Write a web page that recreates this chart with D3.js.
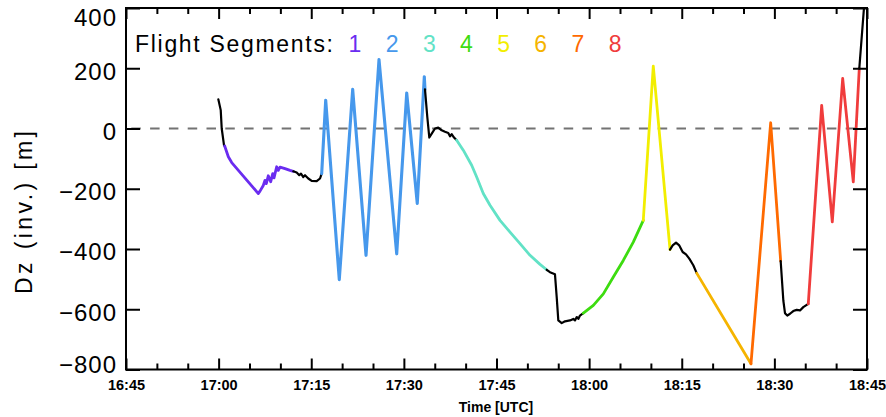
<!DOCTYPE html>
<html>
<head>
<meta charset="utf-8">
<script src="https://cdn.jsdelivr.net/npm/d3@7"></script>
<style>
  html, body { margin: 0; padding: 0; background: #fff; }
  svg { display: block; }
  text { font-family: "Liberation Sans", Arial, sans-serif; }
</style>
</head>
<body>
<svg id="chart" width="886" height="417"></svg>
<script>
// Flight track: height offset Dz relative to the inversion, by time (minutes after 00:00 UTC).
// Each piece is drawn in the colour of its flight segment (0 = transit, black).
const blackClimb  = [[1019.95,97],[1020.34,61],[1020.50,0],[1020.87,-55],[1020.98,-58]];
const segment1    = [[1020.98,-58],[1021.57,-94],[1022.12,-113],[1026.43,-216],[1026.70,-208],[1027.23,-189],[1027.51,-172],[1027.72,-183],[1028.04,-157],[1028.43,-177],[1028.76,-150],[1028.97,-164],[1029.40,-127],[1029.66,-139],[1029.94,-128],[1030.75,-133],[1031.56,-139],[1032.09,-142]];
const transitA    = [[1032.09,-142],[1032.64,-146],[1033.06,-155],[1033.34,-150],[1033.71,-161],[1033.99,-155],[1034.52,-166],[1035.07,-174],[1035.88,-175],[1036.42,-166],[1036.69,-150]];
const segment2    = [[1036.69,-150],[1037.34,94],[1039.54,-502],[1041.71,130],[1043.87,-421],[1045.97,229],[1048.84,-416],[1050.46,118],[1052.17,-249],[1053.31,172],[1053.42,130]];
const transitB    = [[1053.42,130],[1053.79,39],[1054.12,-30],[1054.51,-17],[1055.04,0],[1055.57,3],[1056.12,-6],[1056.66,-11],[1057.19,-15],[1057.47,-26],[1057.74,-19],[1058.12,-30],[1058.55,-39]];
const segment3    = [[1058.55,-39],[1059.62,-72],[1060.98,-122],[1061.79,-161],[1062.86,-216],[1063.95,-255],[1065.57,-305],[1067.19,-344],[1068.81,-382],[1070.43,-421],[1072.05,-451],[1073.13,-469]];
const transitC    = [[1073.13,-469],[1073.66,-477],[1074.47,-484],[1074.75,-560],[1075.01,-637],[1075.56,-646],[1076.09,-640],[1076.90,-637],[1077.44,-632],[1077.71,-637],[1077.99,-626],[1078.25,-632],[1078.52,-621],[1079.06,-613]];
const segment4    = [[1079.06,-613],[1080.68,-587],[1082.30,-549],[1083.92,-493],[1085.53,-438],[1087.15,-377],[1088.77,-305]];
const segment5    = [[1088.77,-305],[1090.39,207],[1093.10,-402]];
const transitD    = [[1093.10,-402],[1093.53,-388],[1094.07,-379],[1094.60,-388],[1095.15,-410],[1095.69,-418],[1096.22,-432],[1096.87,-454],[1097.42,-480]];
const segment6    = [[1097.42,-480],[1106.21,-781]];
const segment7    = [[1106.21,-781],[1109.40,19],[1111.02,-440]];
const transitE    = [[1111.02,-440],[1111.45,-571],[1111.72,-613],[1112.09,-621],[1112.53,-615],[1113.06,-606],[1113.61,-602],[1114.15,-604],[1114.68,-593],[1115.49,-582]];
const segment8    = [[1115.49,-582],[1117.66,77],[1119.38,-310],[1121.06,166],[1122.78,-177],[1123.75,199]];
const transitF    = [[1123.75,199],[1124.51,400],[1124.67,440]];

const trackPieces = [blackClimb, segment1, transitA, segment2, transitB, segment3, transitC,
                     segment4, segment5, transitD, segment6, segment7, transitE, segment8, transitF];
const pieceSegment = [0, 1, 0, 2, 0, 3, 0, 4, 5, 0, 6, 7, 0, 8, 0];

const segmentLabels = ["1", "2", "3", "4", "5", "6", "7", "8"];
const segmentColors = ["#000000", "#6a2cf0", "#4698ec", "#62e2c6", "#3ddc10", "#f2ee00", "#f5b400", "#ff6a00", "#f03c3c"];

const timeDomain = [1005, 1125];            // 16:45 .. 18:45 UTC
const majorTimes = d3.range(1005, 1126, 15);
const minorTimes = d3.range(1005, 1126, 5).filter(t => (t - 1005) % 15 !== 0);
const dzDomain = [-800, 400];
const dzTicks = [-800, -600, -400, -200, 0, 200, 400];

const W = 886, H = 417;
const plot = { left: 126, right: 867, top: 8, bottom: 369.5 };

const svg = d3.select("#chart");
svg.append("rect").attr("width", W).attr("height", H).attr("fill", "#fff");

const x = d3.scaleLinear().domain(timeDomain).range([plot.left, plot.right]);
const y = d3.scaleLinear().domain(dzDomain).range([plot.bottom, plot.top]);

const hhmm = m => Math.floor(m / 60) + ":" + String(m % 60).padStart(2, "0");

// zero reference line
svg.append("line")
  .attr("x1", plot.left).attr("x2", plot.right)
  .attr("y1", y(0)).attr("y2", y(0))
  .attr("stroke", "#737373").attr("stroke-width", 2)
  .attr("stroke-dasharray", "9.5,9.3").attr("stroke-dashoffset", 13.5);

// flight track
svg.append("clipPath").attr("id", "plotclip")
  .append("rect").attr("x", plot.left).attr("y", plot.top)
  .attr("width", plot.right - plot.left).attr("height", plot.bottom - plot.top);

const line = d3.line().x(d => x(d[0])).y(d => y(d[1]));
svg.append("g").attr("clip-path", "url(#plotclip)")
  .selectAll("path").data(trackPieces).join("path")
  .attr("d", line)
  .attr("fill", "none")
  .attr("stroke", (d, i) => segmentColors[pieceSegment[i]])
  .attr("stroke-width", (d, i) => pieceSegment[i] === 0 ? 2.2 : (pieceSegment[i] === 2 ? 3.1 : 2.8))
  .attr("stroke-linejoin", "round")
  .attr("stroke-linecap", "round");

// axes
function styleAxis(g) {
  g.selectAll(".domain").remove();
  g.selectAll(".tick line").attr("stroke", "#000").attr("stroke-width", 2);
}

const xBottom = svg.append("g").attr("transform", `translate(0,${plot.bottom})`)
  .call(d3.axisBottom(x).tickValues(majorTimes).tickSize(-11).tickPadding(10.7).tickFormat(hhmm))
  .call(styleAxis);
xBottom.selectAll("text")
  .attr("font-family", "'Liberation Sans', Arial, sans-serif")
  .attr("font-size", 14.5).attr("font-weight", "bold").attr("fill", "#000");

svg.append("g").attr("transform", `translate(0,${plot.bottom})`)
  .call(d3.axisBottom(x).tickValues(minorTimes).tickSize(-6).tickFormat(""))
  .call(styleAxis);
svg.append("g").attr("transform", `translate(0,${plot.top})`)
  .call(d3.axisTop(x).tickValues(majorTimes).tickSize(-11).tickFormat(""))
  .call(styleAxis);
svg.append("g").attr("transform", `translate(0,${plot.top})`)
  .call(d3.axisTop(x).tickValues(minorTimes).tickSize(-6).tickFormat(""))
  .call(styleAxis);

const yLeft = svg.append("g").attr("transform", `translate(${plot.left},0)`)
  .call(d3.axisLeft(y).tickValues(dzTicks).tickSize(-14).tickPadding(9))
  .call(styleAxis);
yLeft.selectAll("text")
  .attr("font-family", "'Liberation Sans', Arial, sans-serif")
  .attr("font-size", 24).attr("fill", "#000")
  .attr("letter-spacing", 1)
  .attr("dy", d => d === 400 ? "0.72em" : d === -800 ? "0.12em" : "0.45em");

svg.append("g").attr("transform", `translate(${plot.right},0)`)
  .call(d3.axisRight(y).tickValues(dzTicks).tickSize(-14).tickFormat(""))
  .call(styleAxis);

// frame
svg.append("rect")
  .attr("x", plot.left).attr("y", plot.top)
  .attr("width", plot.right - plot.left).attr("height", plot.bottom - plot.top)
  .attr("fill", "none").attr("stroke", "#000").attr("stroke-width", 2);

// axis titles
svg.append("text")
  .attr("x", (plot.left + plot.right) / 2 - 0.5).attr("y", 411.5)
  .attr("text-anchor", "middle")
  .attr("font-size", 14).attr("font-weight", "bold")
  .text("Time [UTC]");

svg.append("text")
  .attr("transform", "translate(32,212.5) rotate(-90)")
  .attr("text-anchor", "middle")
  .attr("font-size", 23)
  .attr("textLength", 163).attr("lengthAdjust", "spacing")
  .text("Dz (inv.) [m]");

// segment legend
svg.append("text")
  .attr("x", 135).attr("y", 52)
  .attr("font-size", 23)
  .attr("textLength", 198).attr("lengthAdjust", "spacing")
  .text("Flight Segments:");

svg.append("g").selectAll("text").data(segmentLabels).join("text")
  .attr("x", (d, i) => 355 + i * 37.15)
  .attr("y", 52)
  .attr("text-anchor", "middle")
  .attr("font-size", 23)
  .attr("fill", (d, i) => segmentColors[i + 1])
  .text(d => d);
</script>
</body>
</html>
